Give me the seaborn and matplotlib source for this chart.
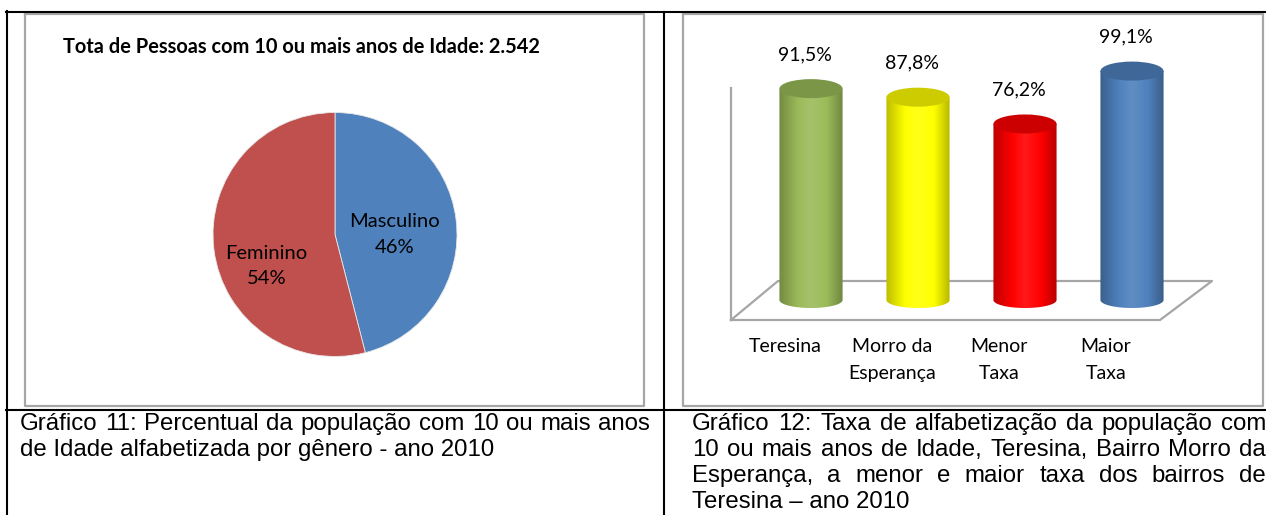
import numpy as np
import matplotlib
matplotlib.use("Agg")
import matplotlib.pyplot as plt
import seaborn as sns
from matplotlib.patches import Ellipse, PathPatch
from matplotlib.path import Path
from matplotlib.lines import Line2D
from matplotlib.colors import LinearSegmentedColormap, to_rgb

# ---------------- data ----------------
pie_title = "Tota de Pessoas com 10 ou mais anos de Idade: 2.542"
gender_labels = ["Masculino", "Feminino"]
gender_pct = [46, 54]
gender_colors = ["#4F81BD", "#C0504D"]

bar_categories = ["Teresina", "Morro da\nEsperança", "Menor\nTaxa", "Maior\nTaxa"]
bar_values = [91.5, 87.8, 76.2, 99.1]
bar_colors = ["#9BBB59", "#FFFF00", "#FF0000", "#4F81BD"]

caption_left = ["Gráfico 11: Percentual da população com 10 ou mais anos",
                "de Idade alfabetizada por gênero - ano 2010"]
caption_right = ["Gráfico 12: Taxa de alfabetização da população com",
                 "10 ou mais anos de Idade, Teresina, Bairro Morro da",
                 "Esperança, a menor e maior taxa dos bairros de",
                 "Teresina – ano 2010"]

# ---------------- setup ----------------
W, H = 1266, 515
sns.set_theme(style="white")
plt.rcParams["font.family"] = ["Lato", "DejaVu Sans"]
fig = plt.figure(figsize=(W / 100, H / 100), dpi=100)
fig.patch.set_facecolor("white")
renderer = fig.canvas.get_renderer()


def fx(px):
    return px / W


def fy(py):
    return 1 - py / H


def ax_from_px(x0, y0, x1, y1):
    return fig.add_axes([fx(x0), fy(y1), (x1 - x0) / W, (y1 - y0) / H])


def fig_line(xs, ys, color, lw, z=1):
    fig.add_artist(Line2D([fx(x) for x in xs], [fy(y) for y in ys],
                          color=color, lw=lw, transform=fig.transFigure,
                          zorder=z, solid_capstyle="projecting"))


# ---------------- table frame ----------------
black_lw = 1.5
fig_line([7, 7], [11, 515], "black", black_lw, 5)
fig_line([6, 1266], [12, 12], "black", black_lw, 5)
fig_line([664, 664], [12, 515], "black", black_lw, 5)
fig_line([6, 1266], [410, 410], "black", black_lw, 5)
for (x0, y0, x1, y1) in [(25, 14, 644, 406), (683, 14, 1263, 406)]:
    fig_line([x0, x1, x1, x0, x0], [y0, y0, y1, y1, y0], "#A6A6A6", 1.6, -2)

# ---------------- pie chart ----------------
cx, cy, r = 335, 234.5, 122
axp = ax_from_px(cx - r, cy - r, cx + r, cy + r)
wedges, _ = axp.pie(gender_pct, colors=gender_colors, startangle=90,
                    counterclock=False, radius=1,
                    wedgeprops=dict(edgecolor="#E8E8E8", linewidth=0.6))
axp.set_xlim(-1, 1)
axp.set_ylim(-1, 1)
pie_label_pos = [(0.49, 0.0), (-0.56, -0.26)]
for lab, pct, pos in zip(gender_labels, gender_pct, pie_label_pos):
    axp.text(pos[0], pos[1], f"{lab}\n{pct}%", ha="center", va="center",
             fontsize=14.5, linespacing=1.6, color="black")

t = fig.text(fx(63), fy(47), pie_title, ha="left", va="center",
             fontweight="bold", fontsize=12, color="black")
w = t.get_window_extent(renderer).width
t.set_fontsize(12 * 474 / w)

# ---------------- 3D-like cylinder bar chart ----------------
floor_c = "#A6A6A6"
fig_line([731, 731], [88, 320], floor_c, 1.6, -1)
fig_line([731, 1160, 1212, 778, 731], [320, 320, 281, 281, 320], floor_c, 1.6, -1)

axb = ax_from_px(731, 25, 1212, 320)
axb.patch.set_alpha(0)
sns.barplot(x=bar_categories, y=bar_values, hue=bar_categories,
            palette=bar_colors, legend=False, width=0.59, saturation=1,
            ax=axb)
px_per_unit = 2.31
ylo, yhi = -(320 - 300) / px_per_unit, (300 - 25) / px_per_unit
xlo, xhi = -80 / 107, 3 + 80 / 107

eb = 8 / px_per_unit
et = 9.5 / px_per_unit


def shade(c, f):
    c = np.array(to_rgb(c))
    return tuple(np.clip(c * f, 0, 1))


def tint(c, f):
    c = np.array(to_rgb(c))
    return tuple(np.clip(c + (1 - c) * f, 0, 1))


patches = sorted(axb.patches, key=lambda p: p.get_x())
for p, col, val in zip(patches, bar_colors, bar_values):
    x0, wd, h = p.get_x(), p.get_width(), p.get_height()
    xc = x0 + wd / 2
    p.set_visible(False)
    ts = np.linspace(np.pi, 2 * np.pi, 60)
    arc = [(xc + wd / 2 * np.cos(a), eb * np.sin(a)) for a in ts]
    verts = [(x0, h), (x0, 0)] + arc + [(x0 + wd, 0), (x0 + wd, h), (x0, h)]
    codes = [Path.MOVETO] + [Path.LINETO] * (len(verts) - 2) + [Path.CLOSEPOLY]
    pp = PathPatch(Path(verts, codes), facecolor="none", edgecolor="none",
                   transform=axb.transData)
    axb.add_patch(pp)
    cmap = LinearSegmentedColormap.from_list(
        "cyl", [(0, shade(col, 0.74)), (0.3, col), (0.5, tint(col, 0.1)),
                (0.75, col), (1, shade(col, 0.72))])
    im = axb.imshow(np.linspace(0, 1, 256)[None, :], extent=[x0, x0 + wd, -eb, h],
                    aspect="auto", cmap=cmap, origin="lower", zorder=2,
                    interpolation="bilinear")
    im.set_clip_path(pp)
    axb.add_patch(Ellipse((xc, h), wd, 2 * et, facecolor=shade(col, 0.8),
                          edgecolor="none", zorder=3))
    axb.annotate(f"{val:.1f}".replace(".", ",") + "%", xy=(xc, val),
                 xytext=(-4.5, 24.5), textcoords="offset points",
                 ha="center", va="center", fontsize=14, color="black")

for i, cat in enumerate(bar_categories):
    axb.annotate(cat, xy=(i, 0), xycoords=("data", "axes fraction"),
                 xytext=(-18.7, -13.0), textcoords="offset points",
                 ha="center", va="top", fontsize=14, linespacing=1.7,
                 multialignment="center", color="black")

axb.set_xlim(xlo, xhi)
axb.set_ylim(ylo, yhi)
axb.set_xticks([])
axb.set_yticks([])
axb.set_xlabel("")
axb.set_ylabel("")
sns.despine(ax=axb, left=True, bottom=True)

# ---------------- captions (justified) ----------------
cap_font = dict(family=["Liberation Sans", "DejaVu Sans"], fontsize=17.3,
                color="black")


def place_line(line, x0, x1, y, justify):
    words = line.split(" ")
    if not justify:
        fig.text(fx(x0), fy(y), line, ha="left", va="center", **cap_font)
        return
    texts = [fig.text(0, fy(y), wd, ha="left", va="center", **cap_font)
             for wd in words]
    widths = [tt.get_window_extent(renderer).width for tt in texts]
    gap = max((x1 - x0 - sum(widths)) / (len(words) - 1), 5.0)
    x = x0
    for tt, wdt in zip(texts, widths):
        tt.set_x(fx(x))
        x += wdt + gap


line_ys = [424, 450, 476, 502]
place_line(caption_left[0], 20, 650, line_ys[0], True)
place_line(caption_left[1], 20, 650, line_ys[1], False)
for k, line in enumerate(caption_right):
    place_line(line, 692, 1266, line_ys[k], k < len(caption_right) - 1)

fig.savefig("out.png", dpi=100, facecolor="white")
